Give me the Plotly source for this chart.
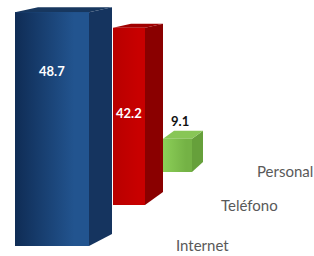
import plotly.graph_objects as go

# ---- data ----
categories = ["Internet", "Teléfono", "Personal"]
values = [48.7, 42.2, 9.1]
value_labels = ["48.7", "42.2", "9.1"]

# ---- layout / perspective geometry (pixels) ----
W, H = 314, 256
front_x0 = [15, 113, 163]
front_x1 = [89, 145, 192]
side_x1 = [112, 163, 203]
baseline_px = [246, 205, 172]
px_per_unit = [4.8, 4.2, 3.65]
back_top_rise = [5, 4, 8]
back_bottom_rise = [12, 13, 10]
front_colors = [("#0f2c55", "#22548f"), ("#b80000", "#c80000"), ("#8ccf58", "#74b245")]
side_colors = ["#15345f", "#8a0000", "#66a03b"]
top_colors = ["#17375f", "#a00000", "#88c656"]
label_frac = [0.75, 0.52, None]
label_colors = ["white", "white", "#111111"]
cat_label_pos = [(202, 245), (249, 205), (285, 171)]

fig = go.Figure()
axis_names = ["y", "y2", "y3"]

for i, v in enumerate(values):
    s = px_per_unit[i]
    ya = axis_names[i]
    dt = back_top_rise[i] / s
    db = back_bottom_rise[i] / s
    depth_x = side_x1[i] - front_x1[i]
    # side face
    fig.add_trace(go.Scatter(
        x=[front_x1[i], front_x1[i], side_x1[i], side_x1[i], front_x1[i]],
        y=[0, v, v + dt, db, 0],
        fill="toself", fillcolor=side_colors[i], mode="lines",
        line=dict(width=0, color=side_colors[i]), yaxis=ya, hoverinfo="skip"))
    # top face
    fig.add_trace(go.Scatter(
        x=[front_x0[i], front_x1[i], side_x1[i], front_x0[i] + depth_x, front_x0[i]],
        y=[v, v, v + dt, v + dt, v],
        fill="toself", fillcolor=top_colors[i], mode="lines",
        line=dict(width=0, color=top_colors[i]), yaxis=ya, hoverinfo="skip"))
    # front face (bar)
    fig.add_trace(go.Bar(
        x=[(front_x0[i] + front_x1[i]) / 2], y=[v],
        width=[front_x1[i] - front_x0[i]],
        marker=dict(color=front_colors[i][1], line=dict(width=0)),
        yaxis=ya, hoverinfo="skip"))
    # gradient overlay of the front face
    fig.add_trace(go.Scatter(
        x=[front_x0[i], front_x1[i], front_x1[i], front_x0[i], front_x0[i]],
        y=[0, 0, v, v, 0],
        fill="toself", mode="lines", line=dict(width=0),
        fillgradient=dict(type="horizontal",
                          colorscale=[[0, front_colors[i][0]], [0.8, front_colors[i][1]], [1, front_colors[i][1]]]),
        yaxis=ya, hoverinfo="skip"))
    # value label
    if label_frac[i] is not None:
        ly, yanchor = v * label_frac[i], "middle"
    else:
        ly, yanchor = v + dt, "bottom"
    fig.add_annotation(
        x=(front_x0[i] + front_x1[i]) / 2 + (0 if label_frac[i] is not None else 2),
        y=ly, xref="x", yref=ya, text="<b>%s</b>" % value_labels[i],
        showarrow=False, xanchor="center", yanchor=yanchor,
        font=dict(family="Lato", size=13, color=label_colors[i]))
    # category label
    fig.add_annotation(
        x=cat_label_pos[i][0] / W, y=1 - cat_label_pos[i][1] / H,
        xref="paper", yref="paper", text=categories[i], showarrow=False,
        xanchor="center", yanchor="middle",
        font=dict(family="Lato", size=15, color="#595959"))

layout_axes = {}
for i, name in enumerate(["yaxis", "yaxis2", "yaxis3"]):
    s = px_per_unit[i]
    r0 = -(H - baseline_px[i]) / s
    r1 = r0 + H / s
    ax = dict(range=[r0, r1], domain=[0, 1], visible=False, fixedrange=True)
    if i > 0:
        ax["overlaying"] = "y"
    layout_axes[name] = ax

fig.update_layout(
    width=W, height=H, margin=dict(l=0, r=0, t=0, b=0),
    paper_bgcolor="white", plot_bgcolor="white", showlegend=False,
    xaxis=dict(range=[0, W], visible=False, fixedrange=True),
    bargap=0, **layout_axes)

fig.write_html("out.html", config={"displayModeBar": False},
               post_script="document.body.style.margin='0';document.body.style.overflow='hidden';")
